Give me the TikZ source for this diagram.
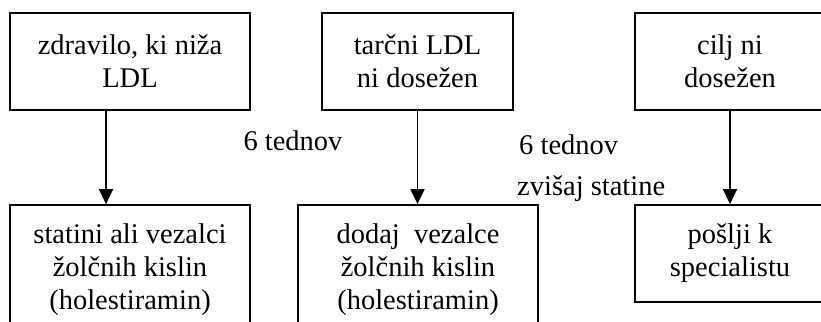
\documentclass[tikz,border=0pt]{standalone}
\usepackage{fontspec}
\setmainfont{Liberation Serif}
\usepackage{tikz}
\usetikzlibrary{arrows.meta}

\begin{document}
\begin{tikzpicture}[x=1pt,y=-1pt,
  box/.style={draw,line width=1.8pt,align=center,inner sep=0pt,minimum height=97pt,
    font=\fontsize{28.5}{33}\selectfont},
  lbl/.style={inner sep=0pt,font=\fontsize{28.5}{33}\selectfont},
  arr/.style={line width=1.5pt,-{Triangle[length=15pt,width=14pt]}}]
\useasboundingbox (0,0) rectangle (821,321);
% top row
\node[box,minimum width=240pt] (drug) at (130,61.5) {zdravilo, ki niža\\LDL};
\node[box,minimum width=191pt] (target) at (417.5,61.5) {tarčni LDL\\ni dosežen};
\node[box,minimum width=190pt] (goal) at (730,61.5) {cilj ni\\dosežen};
% bottom row
\node[box,minimum width=240pt,minimum height=130pt] (statin) at (130,270) {statini ali vezalci\\žolčnih kislin\\(holestiramin)};
\node[box,minimum width=240pt,minimum height=130pt] (binder) at (418,270) {dodaj\ \ vezalce\\žolčnih kislin\\(holestiramin)};
\node[box,minimum width=190pt] (refer) at (730,253.5) {pošlji k\\specialistu};
% arrows
\draw[arr] ([xshift=-24pt]drug.south) -- ([xshift=-24pt]statin.north);
\draw[arr] (target.south) -- (target.south |- binder.north);
\draw[arr] (goal.south) -- (refer.north);
% labels
\node[lbl] (wait1) at (293,141) {6 tednov};
\node[lbl,anchor=west] (wait2) at (519,145) {6 tednov};
\node[lbl,anchor=west] (raise) at (517,189) {zvišaj statine};
\end{tikzpicture}
\end{document}
